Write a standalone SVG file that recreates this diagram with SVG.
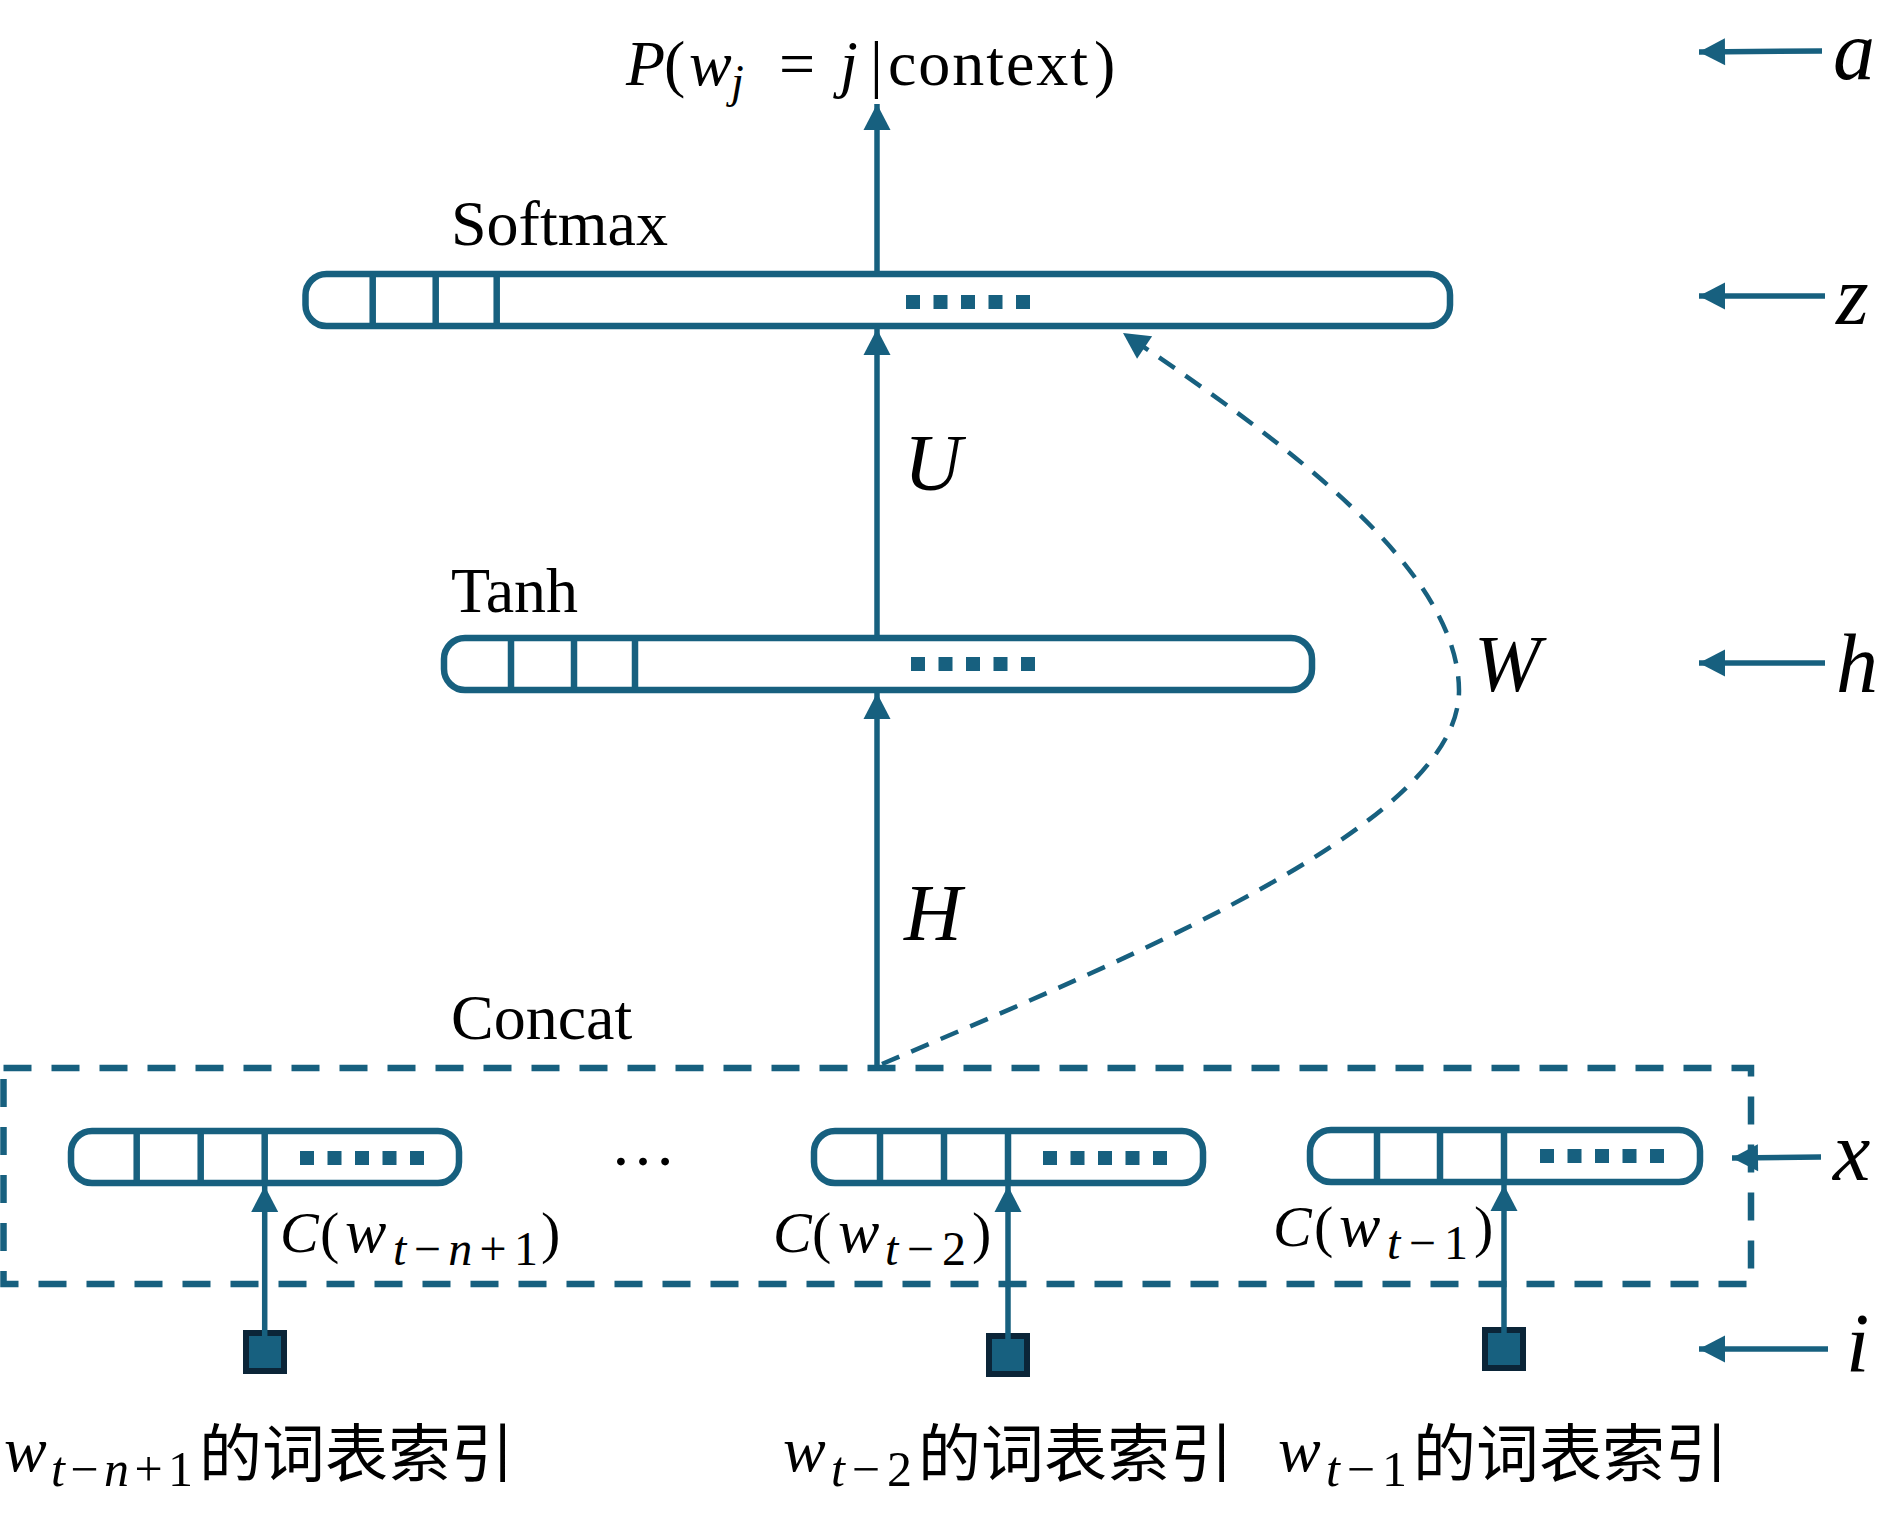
<svg xmlns="http://www.w3.org/2000/svg" xmlns:xlink="http://www.w3.org/1999/xlink" width="1889" height="1524" viewBox="0 0 1889 1524">
<style>
.bx{fill:#fff;stroke:#17607f;stroke-width:6.5}
.dv{stroke:#17607f;stroke-width:6.5}
.dt{fill:#17607f}
.ln{stroke:#17607f;stroke-width:5.5;fill:none}
.dash{stroke:#17607f;stroke-width:4.5;fill:none;stroke-dasharray:19 13}
.rect{stroke:#17607f;stroke-width:6.5;fill:none;stroke-dasharray:28 20}
.sq{fill:#17607f;stroke:#0b2538;stroke-width:6}
.t{font-family:"Liberation Serif","DejaVu Serif",serif;fill:#000}
.i{font-style:italic}
.u{font-style:normal}
.cjk{font-family:"Noto Sans CJK SC","Noto Sans",sans-serif;fill:#000}
</style>
<defs>
<marker id="ah" markerUnits="userSpaceOnUse" markerWidth="26" markerHeight="27" refX="26" refY="13.5" orient="auto" overflow="visible">
<path d="M0,0 L26,13.5 L0,27 z" fill="#17607f"/>
</marker>
<g id="dots">
<rect x="0" y="0" width="14" height="14"/>
<rect x="27.5" y="0" width="14" height="14"/>
<rect x="55" y="0" width="14" height="14"/>
<rect x="82.5" y="0" width="14" height="14"/>
<rect x="110" y="0" width="14" height="14"/>
</g>
</defs>
<rect width="1889" height="1524" fill="#fff"/>

<g id="title" class="t" font-size="64">
<text x="626" y="85" class="t i">P</text>
<text x="664" y="85" class="t">(</text>
<text x="689" y="85" class="t i">w</text>
<text x="731" y="97" class="t i" font-size="46">j</text>
<text x="779" y="85" class="t">=</text>
<text x="840" y="85" class="t i">j</text>
<text x="870" y="85" class="t">|</text>
<text x="888" y="85" class="t" textLength="200">context</text>
<text x="1094" y="85" class="t">)</text>
</g>

<g id="softmax">
<text x="451" y="245" class="t" font-size="64">Softmax</text>
<rect class="bx" x="305.5" y="274" width="1144.5" height="52" rx="21"/>
<line class="dv" x1="372.7" y1="274" x2="372.7" y2="326"/>
<line class="dv" x1="435.7" y1="274" x2="435.7" y2="326"/>
<line class="dv" x1="496.7" y1="274" x2="496.7" y2="326"/>
<use href="#dots" class="dt" x="906" y="295"/>
</g>

<g id="tanh">
<text x="451" y="612" class="t" font-size="64">Tanh</text>
<rect class="bx" x="444" y="638" width="868" height="52" rx="21"/>
<line class="dv" x1="511" y1="638" x2="511" y2="690"/>
<line class="dv" x1="574" y1="638" x2="574" y2="690"/>
<line class="dv" x1="635" y1="638" x2="635" y2="690"/>
<use href="#dots" class="dt" x="911" y="657"/>
</g>

<g id="concat">
<text x="451" y="1039" class="t" font-size="64">Concat</text>
<rect class="rect" x="3.5" y="1068" width="1747.5" height="216"/>
</g>

<g id="emb1">
<rect class="bx" x="71" y="1131" width="388" height="52" rx="21"/>
<line class="dv" x1="136.7" y1="1131" x2="136.7" y2="1183"/>
<line class="dv" x1="200.7" y1="1131" x2="200.7" y2="1183"/>
<line class="dv" x1="264.7" y1="1131" x2="264.7" y2="1183"/>
<use href="#dots" class="dt" x="300" y="1151"/>
<g font-size="58">
<text x="280" y="1252" class="t i">C</text>
<text x="320" y="1252" class="t">(</text>
<text x="345" y="1252" class="t i" font-size="62">w</text>
<text x="393" y="1265" class="t i" font-size="48" textLength="145">t<tspan class="u">−</tspan>n<tspan class="u">+1</tspan></text>
<text x="541" y="1252" class="t">)</text>
</g>
</g>

<g id="ellipsis">
<text x="610" y="1165" class="t" font-size="66">…</text>
</g>

<g id="emb2">
<rect class="bx" x="814" y="1131" width="389" height="52" rx="21"/>
<line class="dv" x1="880" y1="1131" x2="880" y2="1183"/>
<line class="dv" x1="944" y1="1131" x2="944" y2="1183"/>
<line class="dv" x1="1008" y1="1131" x2="1008" y2="1183"/>
<use href="#dots" class="dt" x="1043" y="1151"/>
<g font-size="58">
<text x="773" y="1252" class="t i">C</text>
<text x="812" y="1252" class="t">(</text>
<text x="838" y="1252" class="t i" font-size="62">w</text>
<text x="885" y="1265" class="t i" font-size="48" textLength="81">t<tspan class="u">−2</tspan></text>
<text x="972" y="1252" class="t">)</text>
</g>
</g>

<g id="emb3">
<rect class="bx" x="1310" y="1130" width="390" height="52" rx="21"/>
<line class="dv" x1="1377" y1="1130" x2="1377" y2="1182"/>
<line class="dv" x1="1440" y1="1130" x2="1440" y2="1182"/>
<line class="dv" x1="1504" y1="1130" x2="1504" y2="1182"/>
<use href="#dots" class="dt" x="1540" y="1149"/>
<g font-size="58">
<text x="1273" y="1246" class="t i">C</text>
<text x="1314" y="1246" class="t">(</text>
<text x="1339" y="1246" class="t i" font-size="62">w</text>
<text x="1387" y="1259" class="t i" font-size="48" textLength="81">t<tspan class="u">−1</tspan></text>
<text x="1474" y="1246" class="t">)</text>
</g>
</g>

<g id="idx1">
<rect class="sq" x="246" y="1333" width="38" height="38"/>
<text x="4" y="1471" class="t i" font-size="64">w</text>
<text x="51" y="1486" class="t i" font-size="50" textLength="142">t<tspan class="u">−</tspan>n<tspan class="u">+1</tspan></text>
<text x="199" y="1476" class="cjk" font-size="63">的词表索引</text>
</g>
<g id="idx2">
<rect class="sq" x="989" y="1336" width="38" height="38"/>
<text x="783" y="1471" class="t i" font-size="64">w</text>
<text x="831" y="1486" class="t i" font-size="50" textLength="81">t<tspan class="u">−2</tspan></text>
<text x="918" y="1476" class="cjk" font-size="63">的词表索引</text>
</g>
<g id="idx3">
<rect class="sq" x="1485" y="1330" width="38" height="38"/>
<text x="1278" y="1471" class="t i" font-size="64">w</text>
<text x="1326" y="1486" class="t i" font-size="50" textLength="81">t<tspan class="u">−1</tspan></text>
<text x="1413" y="1476" class="cjk" font-size="63">的词表索引</text>
</g>

<g id="weights" font-size="80">
<text x="904" y="490" class="t i">U</text>
<text x="904" y="940" class="t i">H</text>
<text x="1474" y="691" class="t i">W</text>
</g>

<g id="side" font-size="84">
<text x="1833" y="79" class="t i">a</text>
<text x="1836" y="324" class="t i">z</text>
<text x="1836" y="692" class="t i">h</text>
<text x="1833" y="1180" class="t i">x</text>
<text x="1846" y="1372" class="t i">i</text>
</g>

<g id="connectors">
<line class="ln" x1="877" y1="271" x2="877" y2="104" marker-end="url(#ah)"/>
<line class="ln" x1="877" y1="635" x2="877" y2="329" marker-end="url(#ah)"/>
<line class="ln" x1="877" y1="1066" x2="877" y2="693" marker-end="url(#ah)"/>
<path class="dash" d="M882,1064 C1150,950 1460,820 1459,690 C1458,570 1290,445 1123,333" marker-end="url(#ah)"/>
<line class="ln" x1="264.7" y1="1336" x2="264.7" y2="1186" marker-end="url(#ah)"/>
<line class="ln" x1="1008" y1="1339" x2="1008" y2="1186" marker-end="url(#ah)"/>
<line class="ln" x1="1504" y1="1333" x2="1504" y2="1185" marker-end="url(#ah)"/>
<line class="ln" x1="1822" y1="51" x2="1699" y2="52" marker-end="url(#ah)"/>
<line class="ln" x1="1825" y1="296" x2="1699" y2="296" marker-end="url(#ah)"/>
<line class="ln" x1="1825" y1="663" x2="1699" y2="663" marker-end="url(#ah)"/>
<line class="ln" x1="1821" y1="1157" x2="1732" y2="1158" marker-end="url(#ah)"/>
<line class="ln" x1="1828" y1="1349" x2="1699" y2="1349" marker-end="url(#ah)"/>
</g>
</svg>
